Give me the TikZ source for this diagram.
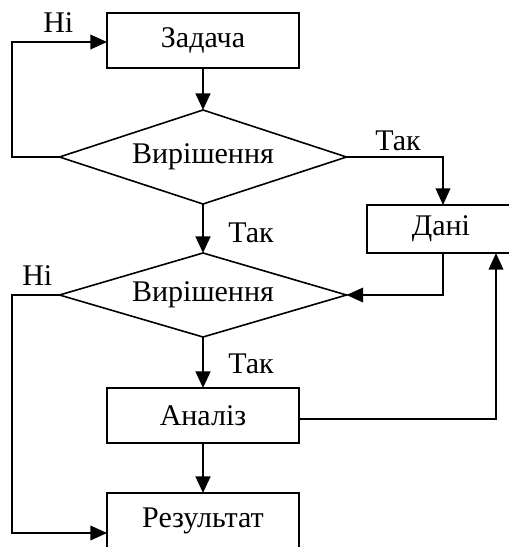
\documentclass[tikz,border=0pt]{standalone}
\usepackage{fontspec}
\setmainfont{Liberation Serif}
\usetikzlibrary{shapes.geometric,arrows.meta}
\begin{document}
\begin{tikzpicture}[x=0.75pt,y=-0.75pt,
  txt/.style={font=\fontsize{22.5}{26}\selectfont},
  box/.style={txt, draw, line width=1.2pt, rectangle, minimum width=144pt,
    minimum height=41.25pt, inner sep=0pt, outer sep=0pt},
  dec/.style={txt, draw, line width=1.2pt, diamond, shape aspect=3,
    minimum width=215.25pt, inner sep=0pt, outer sep=0pt},
  tip/.style={-{Triangle[length=12.5pt,width=11pt]}},
  flow/.style={tip, line width=2pt},
  link/.style={tip, line width=1.2pt},
  lbl/.style={txt, anchor=base west, inner sep=0pt}]
\useasboundingbox (0,0) rectangle (509,547);
\clip (0,0) rectangle (509,547);

% blocks
\node[box] (task) at (203,40.5) {Задача};
\node[dec, minimum height=70.5pt] (dec1) at (203,157) {Вирішення};
\node[dec, minimum height=63pt] (dec2) at (203,295) {Вирішення};
\node[box, minimum width=111pt, minimum height=36pt] (data) at (441,229) {Дані};
\node[box] (anal) at (203,415.5) {Аналіз};
\node[box] (res) at (203,520.5) {Результат};

% bend points
\coordinate (l1) at (12,157);
\coordinate (l1t) at (12,42);
\coordinate (r1) at (443,157);
\coordinate (r2) at (443,295);
\coordinate (fb) at (496,419);
\coordinate (l2) at (12,295);
\coordinate (l2b) at (12,533);

% main flow
\draw[flow] (task) -- (dec1);
\draw[flow] (dec1) -- (dec2);
\draw[flow] (dec2) -- (anal);
\draw[flow] (anal) -- (res);

% side branches
\draw[link] (dec1.west) -- (l1) -- (l1t) -- (l1t -| task.west);
\draw[link] (dec1.east) -- (r1) -- (r1 |- data.north);
\draw[link] (r1 |- data.south) -- (r2) -- (dec2.east);
\draw[link] (fb -| anal.east) -- (fb) -- (fb |- data.south);
\draw[link] (dec2.west) -- (l2) -- (l2b) -- (l2b -| res.west);

% labels
\node[lbl] (n1) at (43,32) {Ні};
\node[lbl] (y1) at (375,150) {Так};
\node[lbl] (y2) at (228,242) {Так};
\node[lbl] (n2) at (22,285) {Ні};
\node[lbl] (y3) at (228,373) {Так};
\end{tikzpicture}
\end{document}
